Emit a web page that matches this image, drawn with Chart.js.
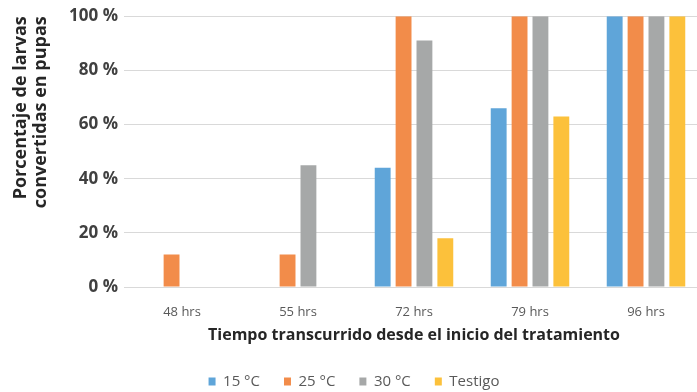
<!DOCTYPE html>
<html>
<head>
<meta charset="utf-8">
<script src="https://cdn.jsdelivr.net/npm/chart.js@4.4.1/dist/chart.umd.min.js"></script>
<style>
    html, body { margin: 0; padding: 0; background: #ffffff; overflow: hidden; }
    #wrap { width: 720px; height: 399px; }
</style>
</head>
<body>
<div id="wrap"><canvas id="chart" width="720" height="399"></canvas></div>
<script>
/* ------------------------------------------------------------
   DATA
------------------------------------------------------------ */
const categories = ["48 hrs", "55 hrs", "72 hrs", "79 hrs", "96 hrs"];
const seriesNames = ["15 °C", "25 °C", "30 °C", "Testigo"];
const values15 = [0, 0, 44, 66, 100];
const values25 = [12, 12, 100, 100, 100];
const values30 = [0, 45, 91, 100, 100];
const valuesTestigo = [0, 0, 18, 63, 100];
const yTicks = [0, 20, 40, 60, 80, 100];

const colors = ["#5fa5d9", "#f28c4a", "#a6a8a8", "#fcc13b"];
const allValues = [values15, values25, values30, valuesTestigo];

const FONT = "'Open Sans', sans-serif";

const ctx = document.getElementById("chart").getContext("2d");

new Chart(ctx, {
    type: "bar",
    data: {
        labels: categories,
        datasets: seriesNames.map((name, i) => ({
            label: name,
            data: allValues[i],
            backgroundColor: colors[i],
            borderWidth: 0,
            categoryPercentage: 0.72,
            barPercentage: 0.76
        }))
    },
    options: {
        responsive: false,
        animation: false,
        layout: { padding: { top: 16, right: 16, left: 4, bottom: 0 } },
        plugins: {
            tooltip: { enabled: false },
            legend: {
                position: "bottom",
                labels: {
                    boxWidth: 7,
                    boxHeight: 8,
                    padding: 24,
                    color: "#595959",
                    font: { family: FONT, size: 15 }
                }
            }
        },
        scales: {
            x: {
                afterFit: axis => { axis.height = 63; },
                grid: { display: false, drawTicks: false },
                border: { display: false },
                ticks: {
                    color: "#595959",
                    padding: 17,
                    font: { family: FONT, size: 13 }
                },
                title: {
                    display: true,
                    text: "Tiempo transcurrido desde el inicio del tratamiento",
                    color: "#262626",
                    font: { family: FONT, size: 16, weight: "bold" },
                    padding: { top: 0, bottom: 5 }
                }
            },
            y: {
                min: 0,
                max: 100,
                afterBuildTicks: axis => {
                    axis.ticks = yTicks.map(v => ({ value: v }));
                },
                afterFit: axis => { axis.width = 120; },
                grid: { color: "#d9d9d9", drawTicks: false, lineWidth: 1 },
                border: { display: false },
                ticks: {
                    color: "#404040",
                    padding: 6,
                    font: { family: FONT, size: 17, weight: "bold" },
                    callback: v => v + " %"
                },
                title: {
                    display: true,
                    align: "end",
                    text: ["Porcentaje de larvas", "convertidas en pupas"],
                    color: "#262626",
                    font: { family: FONT, size: 18, weight: "bold", lineHeight: 1.1 },
                    padding: { top: 7, bottom: 0 }
                }
            }
        }
    }
});
</script>
</body>
</html>
